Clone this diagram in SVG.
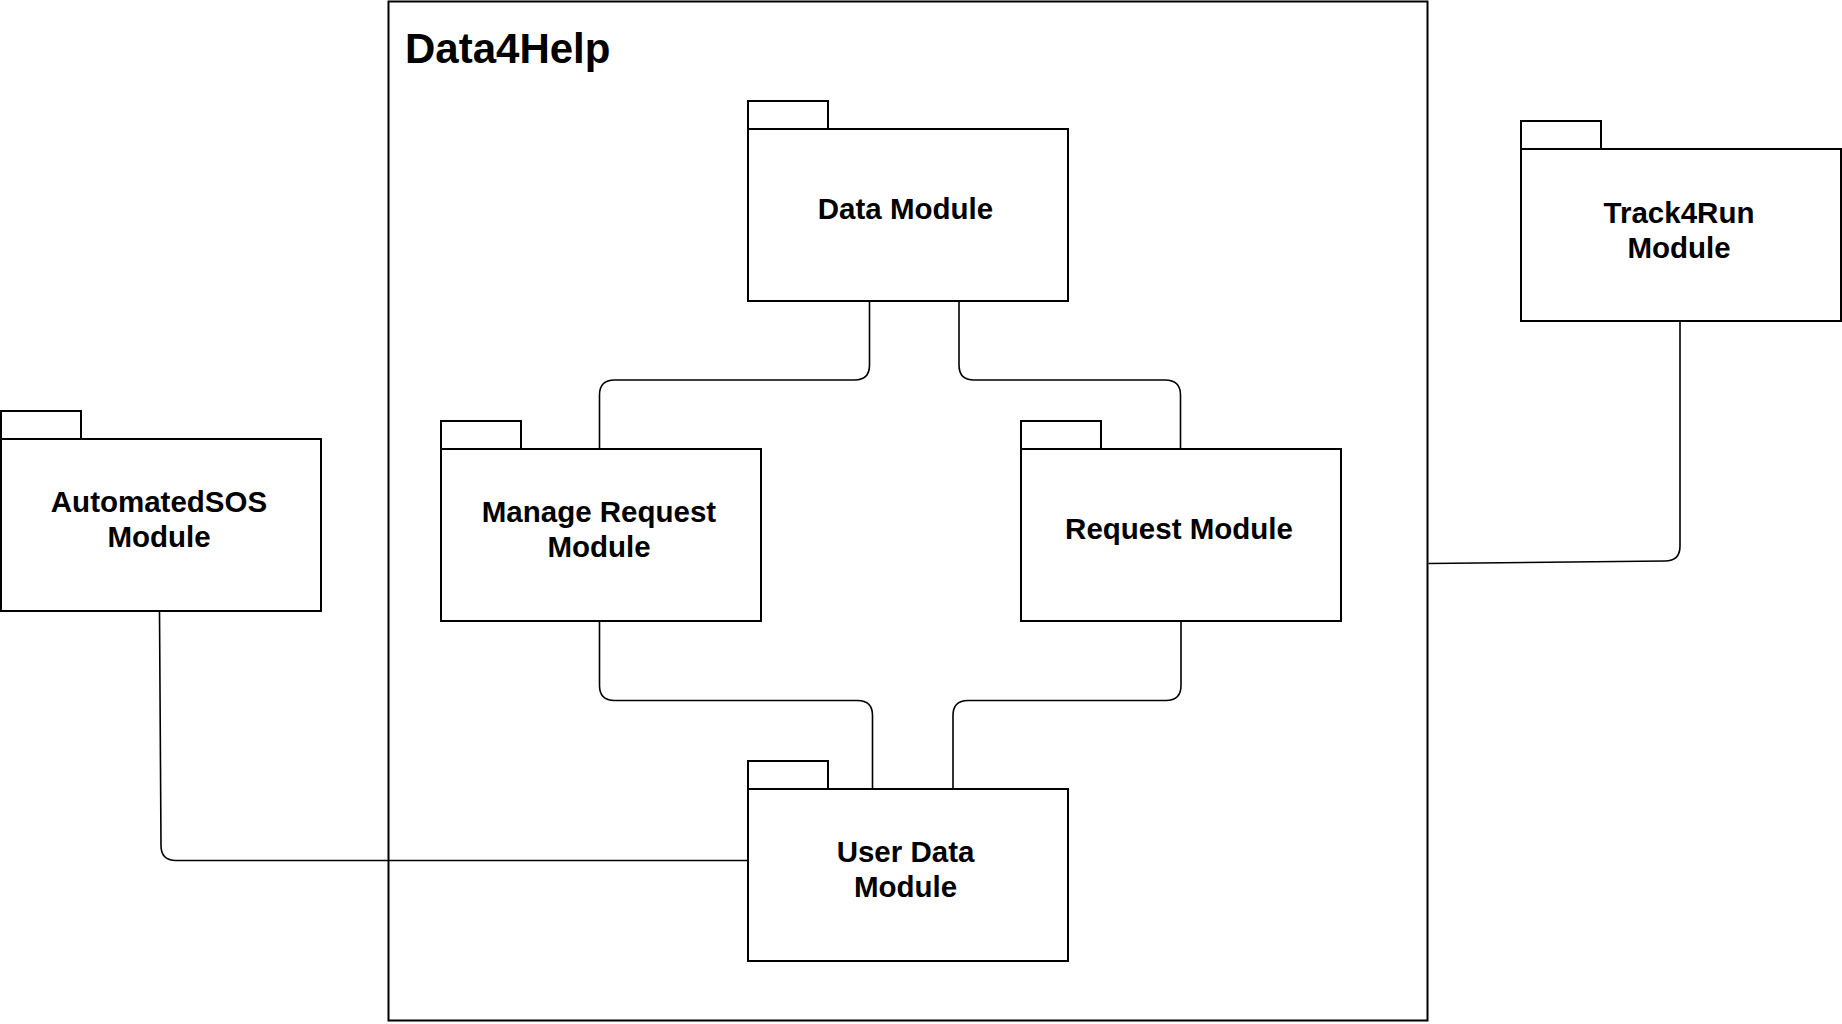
<svg xmlns="http://www.w3.org/2000/svg" width="1842" height="1024" viewBox="0 0 1842 1024">
  <style>
    .box { fill: #ffffff; stroke: #000000; stroke-width: 2; }
    .frame { fill: #ffffff; stroke: #000000; stroke-width: 2; }
    .conn { fill: none; stroke: #000000; stroke-width: 1.6; }
    .lbl { font-family: "Liberation Sans", Arial, Helvetica, sans-serif; font-weight: bold; font-size: 29.5px; fill: #000000; text-anchor: middle; }
    .title { font-family: "Liberation Sans", Arial, Helvetica, sans-serif; font-weight: bold; font-size: 42px; fill: #000000; }
  </style>
  <rect width="1842" height="1024" fill="#ffffff"/>

  <g id="data4help">
    <rect class="frame" x="388.5" y="1.5" width="1039" height="1019"/>
    <text class="title" x="405" y="63">Data4Help</text>
  </g>

  <g id="connectors">
    <!-- Data Module -> Manage Request -->
    <path class="conn" d="M869.5 301 V365 Q869.5 380 854.5 380 H614.5 Q599.5 380 599.5 395 V449"/>
    <!-- Data Module -> Request Module -->
    <path class="conn" d="M959 301 V365 Q959 380 974 380 H1165 Q1180.5 380 1180.5 395 V449"/>
    <!-- Manage Request -> User Data -->
    <path class="conn" d="M599.5 621 V685.5 Q599.5 700.5 614.5 700.5 H857.5 Q872.5 700.5 872.5 715.5 V789"/>
    <!-- Request Module -> User Data -->
    <path class="conn" d="M1181 621 V685.5 Q1181 700.5 1166 700.5 H968 Q953 700.5 953 715.5 V789"/>
    <!-- AutomatedSOS -> User Data -->
    <path class="conn" d="M159.5 611 L161 845.5 Q161 860.5 176 860.5 H748"/>
    <!-- Track4Run -> Data4Help frame -->
    <path class="conn" d="M1680 321 V546 Q1680 561 1665 561 L1428.5 563.5"/>
  </g>

  <g id="data-module">
    <rect class="box" x="748" y="101" width="80" height="28"/>
    <rect class="box" x="748" y="129" width="320" height="172"/>
    <text class="lbl" x="905.5" y="219">Data Module</text>
  </g>

  <g id="track4run-module">
    <rect class="box" x="1521" y="121" width="80" height="28"/>
    <rect class="box" x="1521" y="149" width="320" height="172"/>
    <text class="lbl" x="1679" y="222.5">Track4Run</text>
    <text class="lbl" x="1679" y="257.5">Module</text>
  </g>

  <g id="automatedsos-module">
    <rect class="box" x="1" y="411" width="80" height="28"/>
    <rect class="box" x="1" y="439" width="320" height="172"/>
    <text class="lbl" x="159" y="511.5">AutomatedSOS</text>
    <text class="lbl" x="159" y="546.5">Module</text>
  </g>

  <g id="manage-request-module">
    <rect class="box" x="441" y="421" width="80" height="28"/>
    <rect class="box" x="441" y="449" width="320" height="172"/>
    <text class="lbl" x="599" y="521.5">Manage Request</text>
    <text class="lbl" x="599" y="556.5">Module</text>
  </g>

  <g id="request-module">
    <rect class="box" x="1021" y="421" width="80" height="28"/>
    <rect class="box" x="1021" y="449" width="320" height="172"/>
    <text class="lbl" x="1179" y="539">Request Module</text>
  </g>

  <g id="user-data-module">
    <rect class="box" x="748" y="761" width="80" height="28"/>
    <rect class="box" x="748" y="789" width="320" height="172"/>
    <text class="lbl" x="905.5" y="861.5">User Data</text>
    <text class="lbl" x="905.5" y="896.5">Module</text>
  </g>
</svg>
